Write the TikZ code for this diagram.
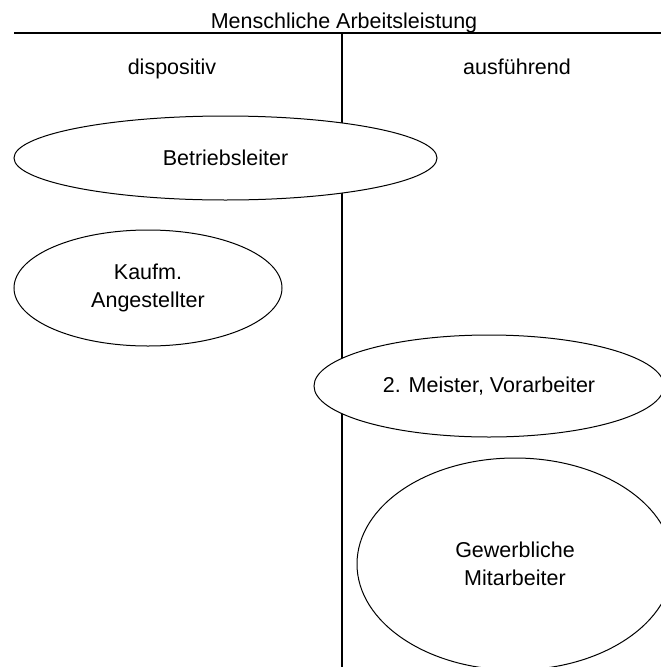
\documentclass[tikz,border=0pt]{standalone}
\usepackage{fontspec}
\setmainfont{Liberation Sans}
\usetikzlibrary{shapes.geometric}
\begin{document}
\begin{tikzpicture}[x=1pt,y=-1pt,
  lbl/.style={font=\fontsize{21.5}{28}\selectfont, inner sep=0pt},
  role/.style={ellipse, draw=black, line width=1pt, fill=white, inner sep=0pt,
    align=center, font=\fontsize{21.5}{28}\selectfont},
  rule/.style={draw=black, line width=1.2pt}]
  \useasboundingbox (0,0) rectangle (661,667);
  \clip (0,0) rectangle (661,667);
  \fill[white] (0,0) rectangle (661,667);

  % heading and column captions
  \node[lbl, anchor=base] (title) at (344,28) {Menschliche Arbeitsleistung};
  \node[lbl, anchor=base] (dispo) at (172,74) {dispositiv};
  \node[lbl, anchor=base] (ausf) at (517,74) {ausführend};

  % table rules
  \coordinate (hl) at (14,33);
  \coordinate (hr) at (661,33);
  \coordinate (vt) at (342,33);
  \coordinate (vb) at (342,667);
  \draw[rule] (hl) -- (hr);
  \draw[rule] (vt) -- (vb);

  % groups of staff
  \node[role, minimum width=423, minimum height=84] (leiter) at (225.5,158) {Betriebsleiter};
  \node[role, minimum width=268, minimum height=116] (kaufm) at (148,288) {Kaufm.\\Angestellter};
  \node[role, minimum width=350, minimum height=102] (meister) at (489,386) {2. Meister, Vorarbeiter};
  \node[role, minimum width=316, minimum height=212] (gewerb) at (515,564) {Gewerbliche\\Mitarbeiter};
\end{tikzpicture}
\end{document}
